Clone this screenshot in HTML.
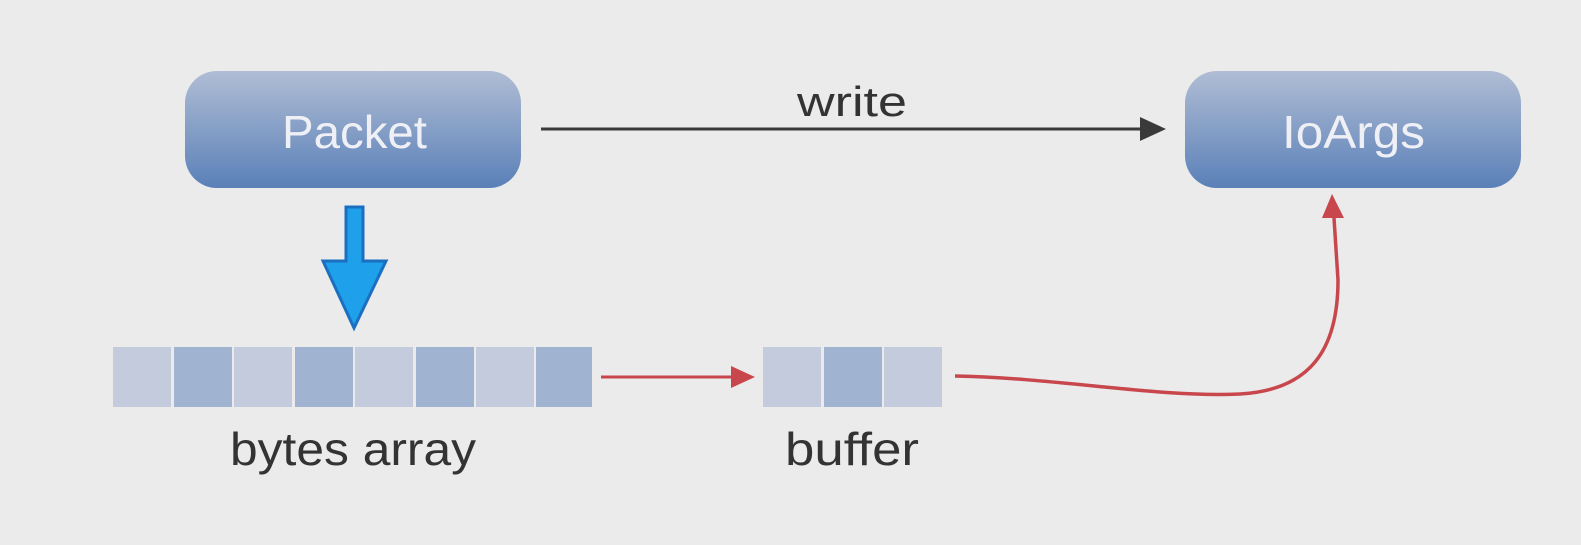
<!DOCTYPE html>
<html><head><style>
body{margin:0;width:1581px;height:540px;background:#ebebeb;overflow:hidden;font-family:"Liberation Sans",sans-serif}
</style></head><body>
<svg width="1581" height="540" xmlns="http://www.w3.org/2000/svg">
<defs>
<linearGradient id="g" x1="0" y1="0" x2="0" y2="1">
<stop offset="0" stop-color="#b0bdd4"/><stop offset="1" stop-color="#5a80b8"/>
</linearGradient>
</defs>
<rect x="185" y="71" width="336" height="117" rx="32" fill="url(#g)"/>
<rect x="1185" y="71" width="336" height="117" rx="32" fill="url(#g)"/>
<text x="282" y="148" font-size="46" fill="#eef0f5" textLength="145" lengthAdjust="spacingAndGlyphs">Packet</text>
<text x="1282" y="148" font-size="46" fill="#eef0f5" textLength="143" lengthAdjust="spacingAndGlyphs">IoArgs</text>
<text x="797" y="116" font-size="42" fill="#333" textLength="110" lengthAdjust="spacingAndGlyphs">write</text>
<line x1="541" y1="129" x2="1142" y2="129" stroke="#3a3a3a" stroke-width="3"/>
<polygon points="1140,117 1166,129 1140,141" fill="#3a3a3a"/>
<polygon points="346,207 363,207 363,261 386,261 354,328 323,261 346,261" fill="#1fa0ea" stroke="#1a6fc0" stroke-width="3"/>
<g>
<rect x="113" y="347" width="58" height="60" fill="#c4cbdc"/>
<rect x="174" y="347" width="58" height="60" fill="#a0b4d2"/>
<rect x="234" y="347" width="58" height="60" fill="#c4cbdc"/>
<rect x="295" y="347" width="58" height="60" fill="#a0b4d2"/>
<rect x="355" y="347" width="58" height="60" fill="#c4cbdc"/>
<rect x="416" y="347" width="58" height="60" fill="#a0b4d2"/>
<rect x="476" y="347" width="58" height="60" fill="#c4cbdc"/>
<rect x="536" y="347" width="56" height="60" fill="#a0b4d2"/>
<rect x="763" y="347" width="58" height="60" fill="#c4cbdc"/>
<rect x="824" y="347" width="58" height="60" fill="#a0b4d2"/>
<rect x="884" y="347" width="58" height="60" fill="#c4cbdc"/>
</g>
<line x1="601" y1="377" x2="734" y2="377" stroke="#c8474d" stroke-width="3"/>
<polygon points="731,366 755,377 731,388" fill="#c8474d"/>
<path d="M955,376 C1060,378 1160,398 1240,394 C1310,390 1338,350 1338,280 L1334,218" fill="none" stroke="#c8474d" stroke-width="3.5"/>
<polygon points="1322,218 1332,194 1344,218" fill="#c8474d"/>
<text x="230" y="465" font-size="46" fill="#333" textLength="246" lengthAdjust="spacingAndGlyphs">bytes array</text>
<text x="785" y="465" font-size="46" fill="#333" textLength="134" lengthAdjust="spacingAndGlyphs">buffer</text>
</svg>
</body></html>
